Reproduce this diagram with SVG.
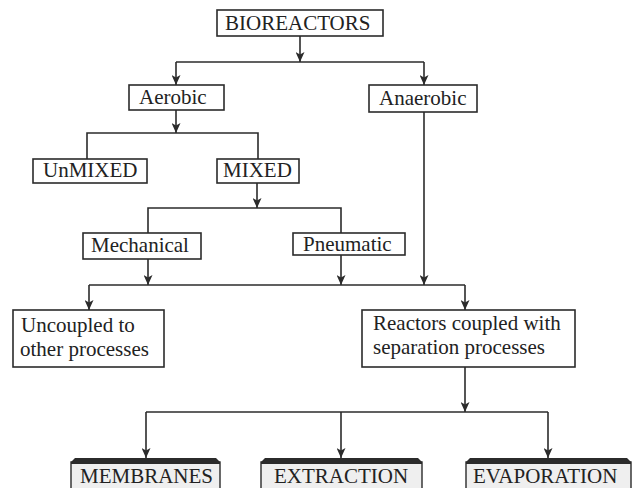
<svg xmlns="http://www.w3.org/2000/svg" width="636" height="488" viewBox="0 0 636 488">
<style>
.box{fill:#fff;stroke:#2b2b2b;stroke-width:1.6}
.t{font-family:"Liberation Serif","Times New Roman",serif;font-size:21px;fill:#222}
.c{fill:none;stroke:#2b2b2b;stroke-width:1.6}
.a{marker-end:url(#ah)}
.band{fill:#2b2b2b}
.gbox{fill:#efefef;stroke:#2b2b2b;stroke-width:1.4}
</style>
<defs>
<marker id="ah" viewBox="0 0 10 9" refX="10" refY="4.5" markerWidth="10" markerHeight="9" markerUnits="userSpaceOnUse" orient="auto">
<path d="M0,0 L10,4.5 L0,9 L2.5,4.5 z" fill="#2b2b2b"/>
</marker>
</defs>
<rect width="636" height="488" fill="#fff"/>
<g id="connectors">
<path class="c a" d="M300,36 V62"/>
<path class="c" d="M176,62 H424"/>
<path class="c a" d="M176,62 V85"/>
<path class="c a" d="M424,62 V85"/>
<path class="c a" d="M176,110 V133"/>
<path class="c" d="M87,159 V133 H258 V159"/>
<path class="c a" d="M257,183 V208"/>
<path class="c" d="M148,233 V208 H341 V233"/>
<path class="c a" d="M148,259 V285"/>
<path class="c a" d="M341,255 V285"/>
<path class="c a" d="M424,112 V285"/>
<path class="c" d="M89,285 H465"/>
<path class="c a" d="M89,285 V310"/>
<path class="c a" d="M465,285 V310"/>
<path class="c a" d="M465,367 V412"/>
<path class="c" d="M146,412 H548"/>
<path class="c a" d="M146,412 V458"/>
<path class="c a" d="M341,412 V458"/>
<path class="c a" d="M548,412 V458"/>
</g>
<g id="bioreactors">
<rect class="box" x="217" y="10" width="166" height="26"/>
<text class="t" x="225" y="30">BIOREACTORS</text>
</g>
<g id="aerobic">
<rect class="box" x="129" y="85" width="95" height="25"/>
<text class="t" x="139" y="104">Aerobic</text>
</g>
<g id="anaerobic">
<rect class="box" x="369" y="85" width="108" height="27"/>
<text class="t" x="379" y="105">Anaerobic</text>
</g>
<g id="unmixed">
<rect class="box" x="33" y="159" width="114" height="24"/>
<text class="t" x="43" y="177">UnMIXED</text>
</g>
<g id="mixed">
<rect class="box" x="217" y="159" width="82" height="24"/>
<text class="t" x="223" y="177">MIXED</text>
</g>
<g id="mechanical">
<rect class="box" x="83" y="233" width="118" height="26"/>
<text class="t" x="91" y="252">Mechanical</text>
</g>
<g id="pneumatic">
<rect class="box" x="293" y="233" width="112" height="22"/>
<text class="t" x="303" y="251">Pneumatic</text>
</g>
<g id="uncoupled">
<rect class="box" x="13" y="310" width="151" height="57"/>
<text class="t" x="21" y="332">Uncoupled to</text>
<text class="t" x="20" y="356">other processes</text>
</g>
<g id="coupled">
<rect class="box" x="362" y="310" width="213" height="57"/>
<text class="t" x="373" y="330">Reactors coupled with</text>
<text class="t" x="373" y="354">separation processes</text>
</g>
<g id="membranes">
<rect class="gbox" x="71" y="462" width="149" height="40"/>
<path class="band" d="M71,464 V462 L75,458 H216 L220,462 V464 Z"/>
<text class="t" x="80" y="483">MEMBRANES</text>
</g>
<g id="extraction">
<rect class="gbox" x="261" y="462" width="161" height="40"/>
<path class="band" d="M261,464 V462 L265,458 H418 L422,462 V464 Z"/>
<text class="t" x="274" y="483">EXTRACTION</text>
</g>
<g id="evaporation">
<rect class="gbox" x="466" y="462" width="165" height="40"/>
<path class="band" d="M466,464 V462 L470,458 H627 L631,462 V464 Z"/>
<text class="t" x="473" y="483">EVAPORATION</text>
</g>
</svg>
